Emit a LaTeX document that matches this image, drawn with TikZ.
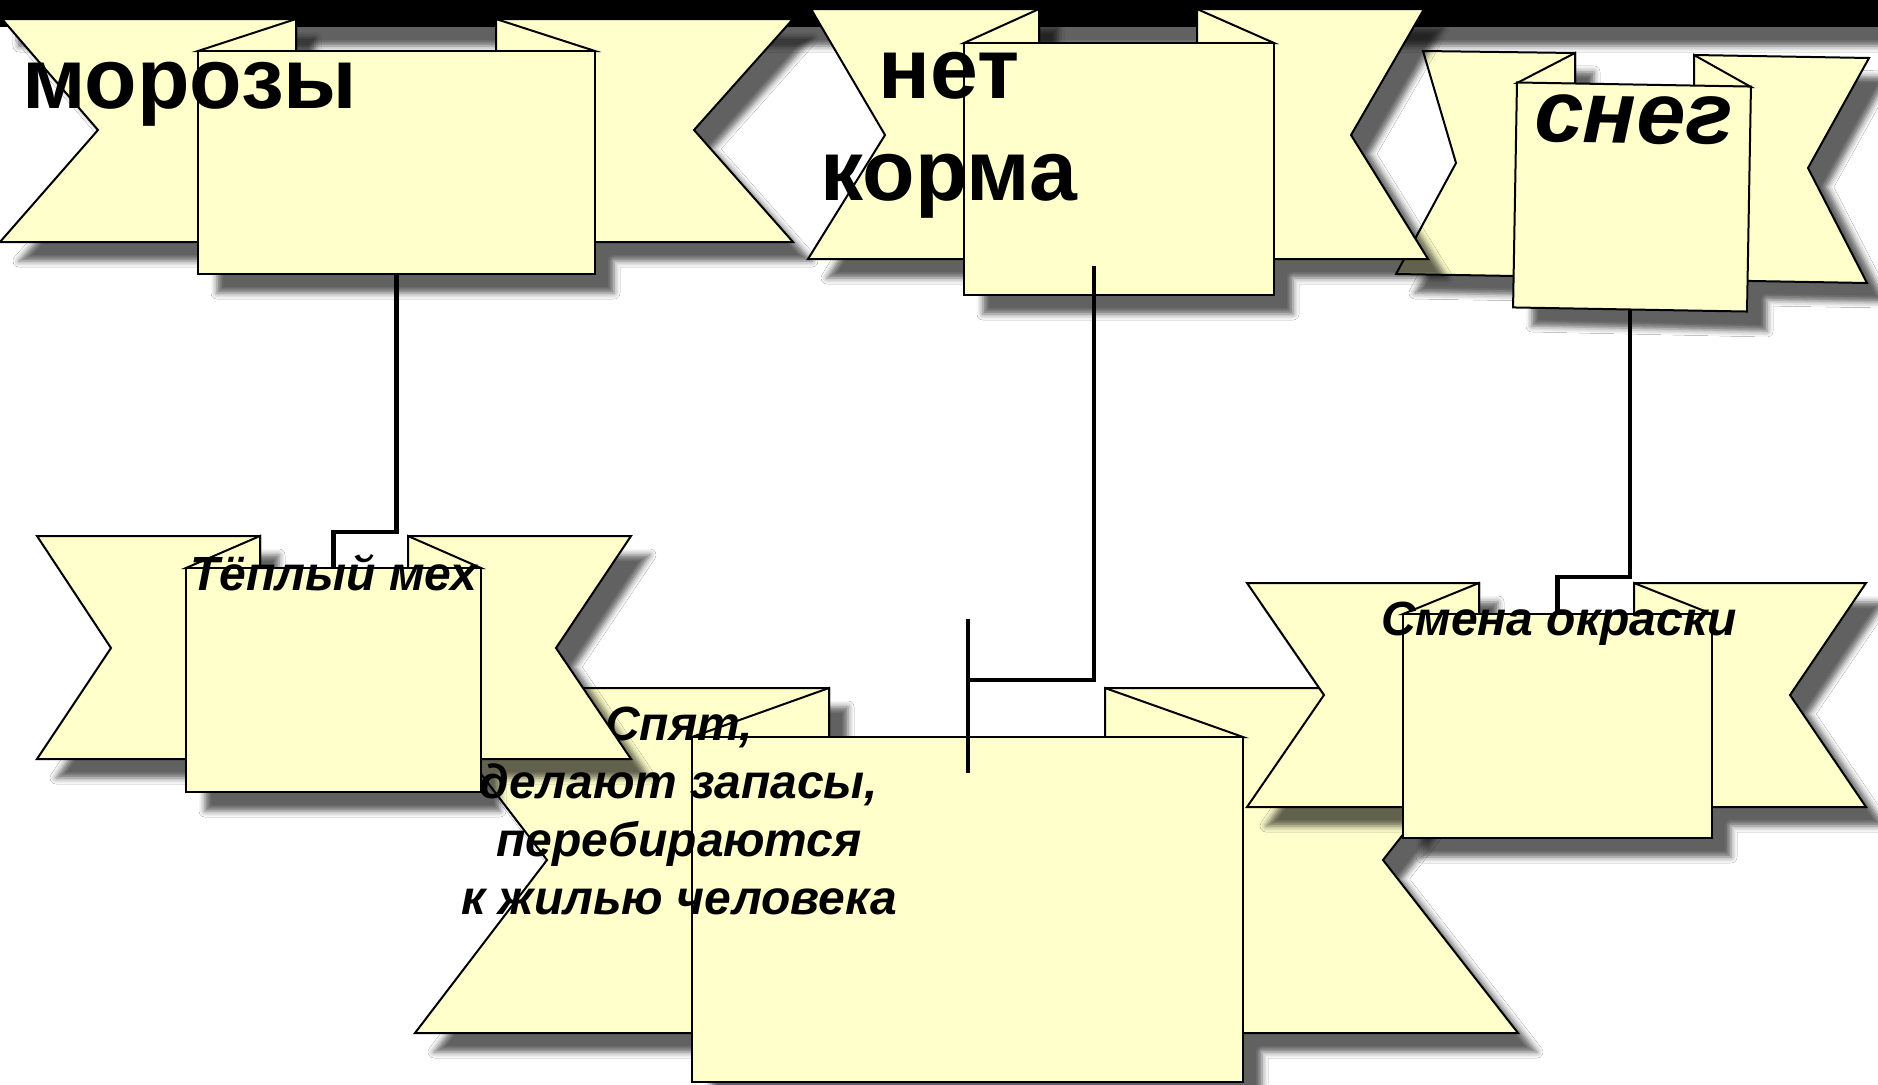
\documentclass[tikz,border=0pt]{standalone}
\usepackage{fontspec}
\setmainfont{Liberation Sans}
\usetikzlibrary{shadows.blur}
\definecolor{ribfill}{HTML}{FFFFCC}
\begin{document}
\begin{tikzpicture}[x=1pt,y=-1pt,
  part/.style={fill=ribfill, draw=black, line width=2pt},
  shd/.style={fill=ribfill, blur shadow={shadow xshift=19pt, shadow yshift=-19pt, shadow blur radius=6pt, shadow opacity=62}},
  rbox/.style={part, rectangle, inner sep=0pt, outer sep=0pt, anchor=north west},
  conn/.style={draw=black, line width=4.5pt},
  toplabel/.style={font=\fontsize{86}{102}\selectfont\bfseries, inner sep=0pt, align=center},
  lowlabel/.style={font=\fontsize{48}{58}\selectfont\bfseries\itshape, inner sep=0pt, align=center}]
\useasboundingbox (0,0) rectangle (1878,1084);
\fill[white] (0,0) rectangle (1878,1084);
% top bar
\fill[black, blur shadow={shadow xshift=19pt, shadow yshift=-19pt, shadow blur radius=6pt, shadow opacity=62}] (0,0) rectangle (1878,27);

% ---------- ribbon A : морозы
\path[shd] (2,19) -- (296,19) -- (296,51) -- (496,51) -- (496,19) -- (793,19) -- (694,130) -- (793,242) -- (595,242) -- (595,274) -- (198,274) -- (198,242) -- (0,242) -- (98,130) -- cycle;
\draw[part] (2,19) -- (296,19) -- (296,242) -- (0,242) -- (98,130) -- cycle;
\draw[part] (496,19) -- (793,19) -- (694,130) -- (793,242) -- (496,242) -- cycle;
\draw[part] (296,19) -- (198,51) -- (296,51) -- cycle;
\draw[part] (496,19) -- (595,51) -- (496,51) -- cycle;
\node[rbox, minimum width=397pt, minimum height=223pt] (A) at (198,51) {};
\node[toplabel, anchor=base west] (tA) at (22,108) {морозы};

% ---------- ribbon C : снег (slightly tilted)
\path[shd] (1423,51) -- (1575,53) -- (1575,84) -- (1694,86) -- (1694,55) -- (1869,58) -- (1808,168) -- (1867,283) -- (1748,281) -- (1748,312) -- (1513,307) -- (1513,276) -- (1396,274) -- (1456,163) -- cycle;
\draw[part] (1423,51) -- (1575,53) -- (1575,277) -- (1396,274) -- (1456,163) -- cycle;
\draw[part] (1694,55) -- (1869,58) -- (1808,168) -- (1867,283) -- (1694,280) -- cycle;
\draw[part] (1575,53) -- (1517,83) -- (1575,84) -- cycle;
\draw[part] (1694,55) -- (1751,87) -- (1694,86) -- cycle;
\node[part, rectangle, inner sep=0pt, outer sep=0pt, minimum width=234pt, minimum height=225pt, rotate=-1] (C) at (1632,197) {};
\node[toplabel, font=\fontsize{88}{102}\selectfont\bfseries\itshape, anchor=base, rotate=-1] (tC) at (1633,143) {снег};

% ---------- ribbon B : нет корма
\path[shd] (811,9) -- (1039,9) -- (1039,43) -- (1197,43) -- (1197,9) -- (1424,9) -- (1351,135) -- (1428,259) -- (1274,259) -- (1274,295) -- (964,295) -- (964,259) -- (808,259) -- (885,135) -- cycle;
\draw[part] (811,9) -- (1039,9) -- (1039,259) -- (808,259) -- (885,135) -- cycle;
\draw[part] (1197,9) -- (1424,9) -- (1351,135) -- (1428,259) -- (1197,259) -- cycle;
\draw[part] (1039,9) -- (964,43) -- (1039,43) -- cycle;
\draw[part] (1197,9) -- (1274,43) -- (1197,43) -- cycle;
\node[rbox, minimum width=310pt, minimum height=252pt] (B) at (964,43) {};
\node[toplabel, anchor=base] (tB) at (949,200) {нет\\корма};

% ---------- ribbon F : Спят ...
\path[shd] (415,688) -- (829,688) -- (829,737) -- (1105,737) -- (1105,688) -- (1518,688) -- (1383,860) -- (1518,1033) -- (1243,1033) -- (1243,1082) -- (692,1082) -- (692,1033) -- (415,1033) -- (547,860) -- cycle;
\draw[part] (415,688) -- (829,688) -- (829,1033) -- (415,1033) -- (547,860) -- cycle;
\draw[part] (1105,688) -- (1518,688) -- (1383,860) -- (1518,1033) -- (1105,1033) -- cycle;
\draw[part] (829,688) -- (692,737) -- (829,737) -- cycle;
\draw[part] (1105,688) -- (1243,737) -- (1105,737) -- cycle;
\node[rbox, minimum width=551pt, minimum height=345pt] (F) at (692,737) {};
\node[lowlabel, anchor=base] (tF) at (679,914) {Спят,\\делают запасы,\\перебираются\\к жилью человека};

% ---------- ribbon D : Тёплый мех
\path[shd] (37,536) -- (260,536) -- (260,568) -- (408,568) -- (408,536) -- (631,536) -- (556,648) -- (631,759) -- (481,759) -- (481,792) -- (186,792) -- (186,759) -- (37,759) -- (111,648) -- cycle;
\draw[part] (37,536) -- (260,536) -- (260,759) -- (37,759) -- (111,648) -- cycle;
\draw[part] (408,536) -- (631,536) -- (556,648) -- (631,759) -- (408,759) -- cycle;
\draw[part] (260,536) -- (186,568) -- (260,568) -- cycle;
\draw[part] (408,536) -- (481,568) -- (408,568) -- cycle;
\node[rbox, minimum width=295pt, minimum height=224pt] (D) at (186,568) {};
\node[lowlabel, anchor=base] (tD) at (334,590) {Тёплый мех};

% ---------- ribbon E : Смена окраски
\path[shd] (1247,583) -- (1479,583) -- (1479,614) -- (1634,614) -- (1634,583) -- (1866,583) -- (1790,695) -- (1866,807) -- (1712,807) -- (1712,838) -- (1403,838) -- (1403,807) -- (1247,807) -- (1324,695) -- cycle;
\draw[part] (1247,583) -- (1479,583) -- (1479,807) -- (1247,807) -- (1324,695) -- cycle;
\draw[part] (1634,583) -- (1866,583) -- (1790,695) -- (1866,807) -- (1634,807) -- cycle;
\draw[part] (1479,583) -- (1403,614) -- (1479,614) -- cycle;
\draw[part] (1634,583) -- (1712,614) -- (1634,614) -- cycle;
\node[rbox, minimum width=309pt, minimum height=224pt] (E) at (1403,614) {};
\node[lowlabel, anchor=base] (tE) at (1559,635) {Смена окраски};

% ---------- connectors
\draw[conn] (A.south) -- ++(0,258) -| (D.north);
\coordinate (bstart) at (1094,266);
\coordinate (fjoin) at (968,680);
\coordinate (fbarT) at (968,619);
\coordinate (fbarB) at (968,773);
\draw[conn] (bstart) |- (fjoin);
\draw[conn] (fbarT) -- (fbarB);
\draw[conn] (C.south) -- ++(0,267.5) -| (E.north);
\end{tikzpicture}
\end{document}
